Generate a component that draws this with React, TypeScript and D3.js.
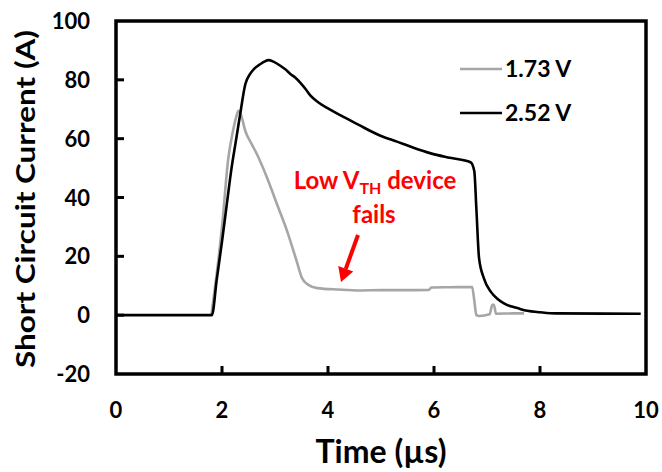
import * as d3 from "d3";
import React, { useEffect, useRef } from "react";

// 2.52 V device (black)
const timeHigh = [0, 1.81, 1.9, 2.0, 2.1, 2.18, 2.26, 2.34, 2.44, 2.53, 2.62, 2.72, 2.8, 2.88, 2.97, 3.1, 3.2, 3.29, 3.38, 3.48, 3.58, 3.67, 3.82, 4.0, 4.23, 4.42, 4.61, 4.8, 4.99, 5.3, 5.6, 5.94, 6.3, 6.69, 6.76, 6.8, 6.85, 6.94, 7.07, 7.2, 7.32, 7.45, 7.57, 7.76, 8.0, 8.3, 9.9];
const currentHigh = [0, 0, 12, 25, 39, 50, 59, 68, 78.5, 82, 84, 85.3, 86.2, 86.7, 86.2, 84.8, 83.5, 82, 80.8, 79, 76.8, 74.6, 72.3, 70.3, 68, 66.2, 64.4, 62.6, 61, 59, 57, 55, 53.5, 52, 49, 36, 19.4, 12.6, 8, 5.5, 4, 3, 2.4, 1.5, 1, 0.6, 0.5];

// 1.73 V device (gray)
const timeLow = [1.8, 1.9, 2.0, 2.12, 2.2, 2.27, 2.31, 2.36, 2.44, 2.55, 2.66, 2.85, 3.04, 3.23, 3.41, 3.51, 3.63, 3.8, 4.2, 4.6, 5.0, 5.4, 5.9, 5.95, 6.3, 6.72, 6.76, 6.8, 6.85, 7.05, 7.1, 7.13, 7.17, 7.5, 7.7];
const currentLow = [0, 14, 30, 53.5, 62, 67.5, 69.5, 68, 62.6, 58.5, 54.7, 46.7, 37.6, 28.5, 18.3, 12.6, 10.3, 9.2, 8.7, 8.4, 8.5, 8.5, 8.6, 9.4, 9.5, 9.6, 5, 0, -0.3, 0.3, 3.5, 3.5, 0.5, 0.6, 0.6];

const xTicks = [0, 2, 4, 6, 8, 10];
const yTicks = [-20, 0, 20, 40, 60, 80, 100];
const legendLabels = ["1.73 V", "2.52 V"];
const seriesColors = ["#a6a6a6", "#000000"];

const width = 662,
  height = 472;
const margin = { top: 21, right: 16, bottom: 98, left: 116 };
const font = "Lato, 'Open Sans', sans-serif";

export default function App() {
  const ref = useRef<SVGSVGElement>(null);

  useEffect(() => {
    const svg = d3.select(ref.current);
    svg.selectAll("*").remove();

    const x = d3
      .scaleLinear()
      .domain([0, 10])
      .range([margin.left, width - margin.right]);
    const y = d3
      .scaleLinear()
      .domain([-20, 100])
      .range([height - margin.bottom, margin.top]);

    const line = d3
      .line<[number, number]>()
      .x((d) => x(d[0]))
      .y((d) => y(d[1]))
      .curve(d3.curveMonotoneX);

    // gray first so black sits on top
    const low: [number, number][] = timeLow.map((t, i) => [t, currentLow[i]]);
    const high: [number, number][] = timeHigh.map((t, i) => [t, currentHigh[i]]);

    svg
      .append("path")
      .datum(low)
      .attr("d", line)
      .attr("fill", "none")
      .attr("stroke", seriesColors[0])
      .attr("stroke-width", 2.6)
      .attr("stroke-linejoin", "round");

    svg
      .append("path")
      .datum(high)
      .attr("d", line)
      .attr("fill", "none")
      .attr("stroke", seriesColors[1])
      .attr("stroke-width", 2.6)
      .attr("stroke-linejoin", "round");

    // frame
    svg
      .append("rect")
      .attr("x", x(0))
      .attr("y", y(100))
      .attr("width", x(10) - x(0))
      .attr("height", y(-20) - y(100))
      .attr("fill", "none")
      .attr("stroke", "#000")
      .attr("stroke-width", 3.5);

    // inward ticks
    yTicks.slice(1, -1).forEach((t) =>
      svg
        .append("line")
        .attr("x1", x(0))
        .attr("x2", x(0) + 8)
        .attr("y1", y(t))
        .attr("y2", y(t))
        .attr("stroke", "#000")
        .attr("stroke-width", 3)
    );
    xTicks.slice(1, -1).forEach((t) =>
      svg
        .append("line")
        .attr("x1", x(t))
        .attr("x2", x(t))
        .attr("y1", y(-20))
        .attr("y2", y(-20) - 8)
        .attr("stroke", "#000")
        .attr("stroke-width", 3)
    );

    // tick labels
    yTicks.forEach((t) =>
      svg
        .append("text")
        .attr("x", 90)
        .attr("y", y(t) + 8)
        .attr("text-anchor", "end")
        .style("font-family", font)
        .style("font-weight", "bold")
        .style("font-size", "22px")
        .text(t.toString())
    );
    xTicks.forEach((t) =>
      svg
        .append("text")
        .attr("x", x(t))
        .attr("y", 418)
        .attr("text-anchor", "middle")
        .style("font-family", font)
        .style("font-weight", "bold")
        .style("font-size", "22px")
        .text(t.toString())
    );

    // axis titles
    svg
      .append("text")
      .attr("x", 381)
      .attr("y", 463)
      .attr("text-anchor", "middle")
      .style("font-family", font)
      .style("font-weight", "bold")
      .style("font-size", "32px")
      .text("Time (µs)");

    svg
      .append("text")
      .attr("transform", "translate(35,199) rotate(-90)")
      .attr("text-anchor", "middle")
      .attr("textLength", 338)
      .attr("lengthAdjust", "spacingAndGlyphs")
      .style("font-family", font)
      .style("font-weight", "bold")
      .style("font-size", "27px")
      .text("Short Circuit Current (A)");

    // legend
    legendLabels.forEach((lab, i) => {
      const ly = 69 + i * 44;
      svg
        .append("line")
        .attr("x1", 460)
        .attr("x2", 502)
        .attr("y1", ly)
        .attr("y2", ly)
        .attr("stroke", seriesColors[i])
        .attr("stroke-width", 2.6);
      svg
        .append("text")
        .attr("x", 505)
        .attr("y", ly + 8)
        .style("font-family", font)
        .style("font-weight", "bold")
        .style("font-size", "23px")
        .text(lab);
    });

    // annotation
    const note = svg
      .append("text")
      .attr("x", 375)
      .attr("y", 189)
      .attr("text-anchor", "middle")
      .style("font-family", font)
      .style("font-weight", "bold")
      .style("font-size", "24px")
      .attr("fill", "#ff0000");
    note.append("tspan").text("Low V");
    note.append("tspan").attr("dy", 5).style("font-size", "16px").text("TH");
    note.append("tspan").attr("dy", -5).text(" device");

    svg
      .append("text")
      .attr("x", 374)
      .attr("y", 223)
      .attr("text-anchor", "middle")
      .style("font-family", font)
      .style("font-weight", "bold")
      .style("font-size", "24px")
      .attr("fill", "#ff0000")
      .text("fails");

    // arrow
    const ax1 = 358, ay1 = 235, ax2 = 341, ay2 = 282;
    const ang = Math.atan2(ay2 - ay1, ax2 - ax1);
    const headLen = 14, headW = 8;
    const bx = ax2 - headLen * Math.cos(ang), by = ay2 - headLen * Math.sin(ang);
    svg
      .append("line")
      .attr("x1", ax1)
      .attr("y1", ay1)
      .attr("x2", bx)
      .attr("y2", by)
      .attr("stroke", "#ff0000")
      .attr("stroke-width", 4);
    svg
      .append("polygon")
      .attr(
        "points",
        [
          [ax2, ay2],
          [bx + headW * Math.sin(ang), by - headW * Math.cos(ang)],
          [bx - headW * Math.sin(ang), by + headW * Math.cos(ang)],
        ]
          .map((p) => p.join(","))
          .join(" ")
      )
      .attr("fill", "#ff0000");
  }, []);

  return (
    <svg
      ref={ref}
      width={width}
      height={height}
      style={{ position: "absolute", left: 0, top: 0, background: "#fff" }}
    ></svg>
  );
}
